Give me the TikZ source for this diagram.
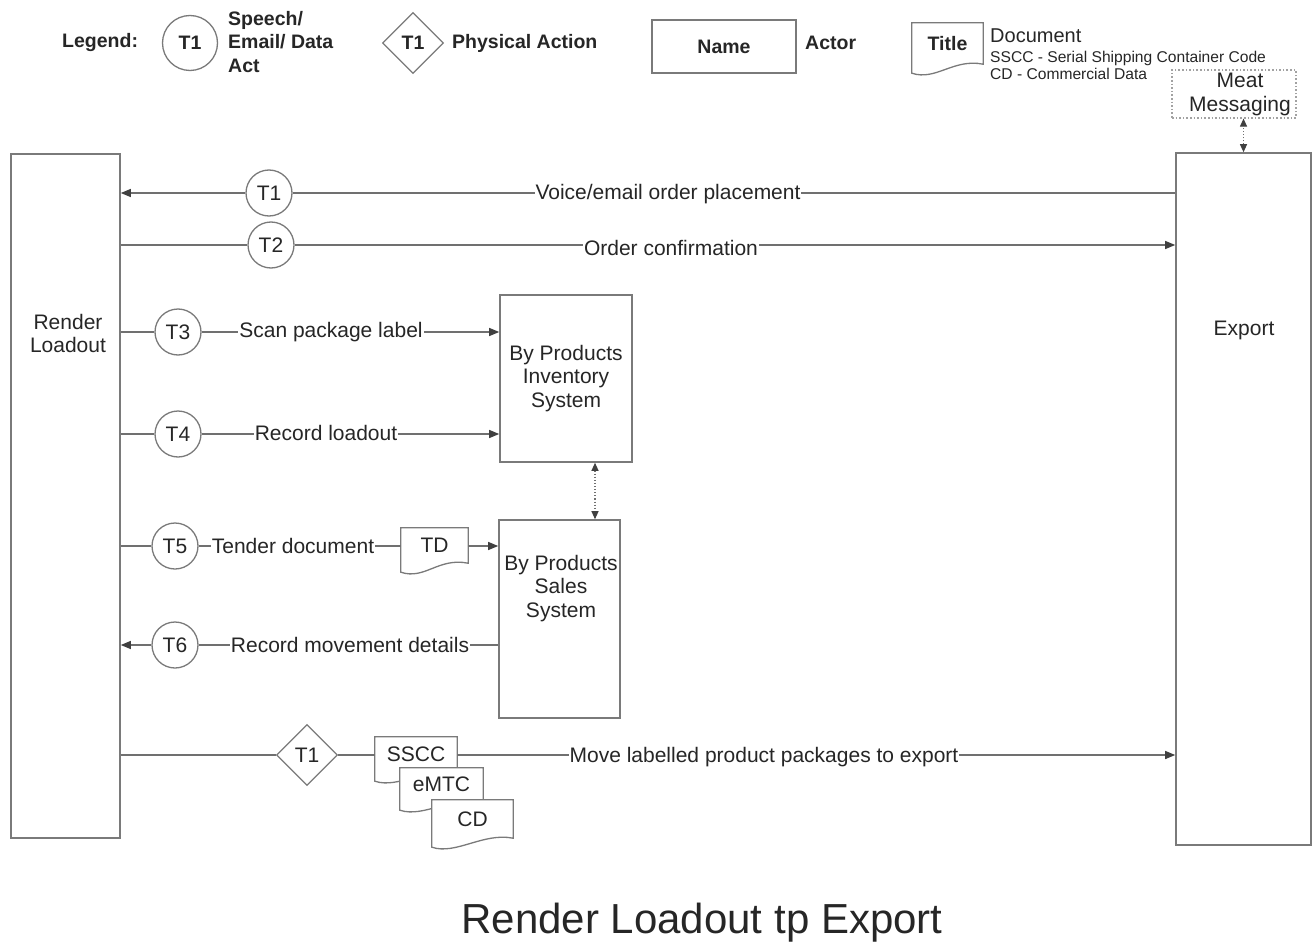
\documentclass[tikz,border=0pt]{standalone}
\usepackage{fontspec}
\setmainfont{Liberation Sans}
\usetikzlibrary{shapes.geometric,arrows.meta}
\pgfdeclarelayer{bg}
\pgfsetlayers{bg,main}
\definecolor{linegray}{HTML}{707070}
\definecolor{boxgray}{HTML}{7A7A7A}
\definecolor{tipgray}{HTML}{404040}
\definecolor{txt}{HTML}{262626}
\newcommand\fsz[2]{\fontsize{#1}{#2}\selectfont}
\newcommand\docout[1]{%
  \begin{pgfonlayer}{bg}
  \draw[docline] (#1.north west) -- (#1.north east) -- (#1.south east)
     .. controls +(-30,-6) and +(24,8) .. ([yshift=-9pt]#1.south west) -- cycle;
  \end{pgfonlayer}}
\begin{document}
\begin{tikzpicture}[x=1pt,y=-1pt,
  every node/.style={text=txt},
  conn/.style={draw=linegray,line width=1.3pt},
  arr/.style={conn,-{Triangle[length=10pt,width=8pt,color=tipgray]}},
  dotarr/.style={draw=linegray,line width=1.1pt,dotted,{Triangle[length=8pt,width=7pt,color=tipgray]}-{Triangle[length=8pt,width=7pt,color=tipgray]}},
  actor/.style={draw=boxgray,line width=1.6pt,fill=white,inner sep=0pt,align=center,font=\fsz{21}{23.5}},
  boxtext/.style={inner sep=0pt,align=center,font=\fsz{21}{23.5}},
  act/.style={circle,draw=boxgray,line width=1.3pt,fill=white,minimum size=46pt,inner sep=0pt,font=\fsz{21}{23.5}},
  phys/.style={diamond,draw=boxgray,line width=1.3pt,fill=white,minimum width=61pt,minimum height=61pt,inner sep=0pt,font=\fsz{21}{23.5}},
  lab/.style={fill=white,inner sep=1pt,font=\fsz{21}{23.5}},
  legtext/.style={inner sep=0pt,align=left,font=\bfseries\fsz{19.5}{23.5}},
  docbox/.style={inner sep=0pt,font=\fsz{21}{23.5}},
  docline/.style={draw=boxgray,line width=1.3pt,fill=white}
]
\useasboundingbox (0,0) rectangle (1314,947);

% ---------------- legend ----------------
\node[legtext,anchor=west] (legend) at (62,43) {Legend:};
\node[act,minimum size=55pt,font=\bfseries\fsz{19.5}{23.5}] (legact) at (190,43) {T1};
\node[legtext,anchor=west] (legacttxt) at (228,42) {Speech/\\Email/ Data\\Act};
\node[phys,font=\bfseries\fsz{19.5}{23.5}] (legphys) at (413,43) {T1};
\node[legtext,anchor=west] (legphystxt) at (452,43) {Physical Action};
\node[actor,minimum width=144pt,minimum height=53pt,font=\bfseries\fsz{19.5}{23.5}] (legname) at (724,46.5) {Name};
\node[legtext,anchor=west] (legactor) at (805,43) {Actor};
\node[docbox,minimum width=71pt,minimum height=41pt,font=\bfseries\fsz{19.5}{23.5}] (legdoc) at (947.5,43.5) {Title};
\docout{legdoc}
\node[inner sep=0pt,anchor=west,font=\fsz{20}{22}] (legdoctxt) at (990,36) {Document};
\node[inner sep=0pt,anchor=west,align=left,font=\fsz{15.6}{17}] (legdocabbr) at (990,65.5) {SSCC - Serial Shipping Container Code\\CD - Commercial Data};

% ---------------- actors ----------------
\node[actor,minimum width=109pt,minimum height=684pt] (render) at (65.5,496) {};
\node[boxtext] (renderlbl) at (68,333.5) {Render\\Loadout};
\node[actor,minimum width=135pt,minimum height=692pt] (export) at (1243.5,499) {};
\node[boxtext] (exportlbl) at (1244,330) {Export};
\node[actor,minimum width=124pt,minimum height=48pt,draw=boxgray!70,dotted,line width=1.2pt] (meat) at (1234,94) {};
\node[boxtext] (meatlbl) at (1240,94.5) {Meat\\Messaging};
\node[actor,minimum width=132pt,minimum height=167pt] (inv) at (566,378.5) {By Products\\Inventory\\System};
\node[actor,minimum width=121pt,minimum height=198pt] (sales) at (559.5,619) {};
\node[boxtext] (saleslbl) at (561,588.5) {By Products\\Sales\\System};

\draw[dotarr] (export.north) -- (export.north |- meat.south);
\draw[dotarr] ([xshift=29pt]inv.south) -- ([xshift=29pt]inv.south |- sales.north);

% ---------------- T1 ----------------
\node[act] (t1) at (269,193) {T1};
\draw[conn] (export.west |- t1) -- (t1);
\draw[arr] (t1) -- (render.east |- t1);
\node[lab] (t1lbl) at (668,194) {Voice/email order placement};

% ---------------- T2 ----------------
\node[act] (t2) at (271,245) {T2};
\draw[conn] (render.east |- t2) -- (t2);
\draw[arr] (t2) -- (export.west |- t2);
\node[lab] (t2lbl) at (671,248) {Order confirmation};

% ---------------- T3 ----------------
\node[act] (t3) at (178,332) {T3};
\draw[conn] (render.east |- t3) -- (t3);
\draw[arr] (t3) -- (inv.west |- t3);
\node[lab] (t3lbl) at (331,332) {Scan package label};

% ---------------- T4 ----------------
\node[act] (t4) at (178,434) {T4};
\draw[conn] (render.east |- t4) -- (t4);
\draw[arr] (t4) -- (inv.west |- t4);
\node[lab] (t4lbl) at (326,433) {Record loadout};

% ---------------- T5 ----------------
\node[act] (t5) at (175,546) {T5};
\node[docbox,minimum width=67pt,minimum height=35pt] (td) at (434.5,545.5) {TD};
\docout{td}
\draw[conn] (render.east |- t5) -- (t5);
\draw[conn] (t5) -- (td.west |- t5);
\draw[arr] (td.east |- t5) -- (sales.west |- t5);
\node[lab] (t5lbl) at (293,546) {Tender document};

% ---------------- T6 ----------------
\node[act] (t6) at (175,645) {T6};
\draw[conn] (sales.west |- t6) -- (t6);
\draw[arr] (t6) -- (render.east |- t6);
\node[lab] (t6lbl) at (350,645) {Record movement details};

% ---------------- physical action ----------------
\node[phys] (p1) at (307,755) {T1};
\node[docbox,minimum width=82pt,minimum height=35pt] (sscc) at (416,754.5) {SSCC};
\docout{sscc}
\node[docbox,minimum width=83pt,minimum height=33pt] (emtc) at (441.5,784.5) {eMTC};
\docout{emtc}
\node[docbox,minimum width=81pt,minimum height=38pt] (cd) at (472.5,819) {CD};
\docout{cd}
\draw[conn] (render.east |- p1) -- (p1);
\draw[conn] (p1) -- (sscc.west |- p1);
\draw[arr] (sscc.east |- p1) -- (export.west |- p1);
\node[lab] (p1lbl) at (764,757) {Move labelled product packages to export};

% ---------------- title ----------------
\node[inner sep=0pt,font=\fsz{42}{46}] (title) at (702,923) {Render Loadout tp Export};
\end{tikzpicture}
\end{document}
